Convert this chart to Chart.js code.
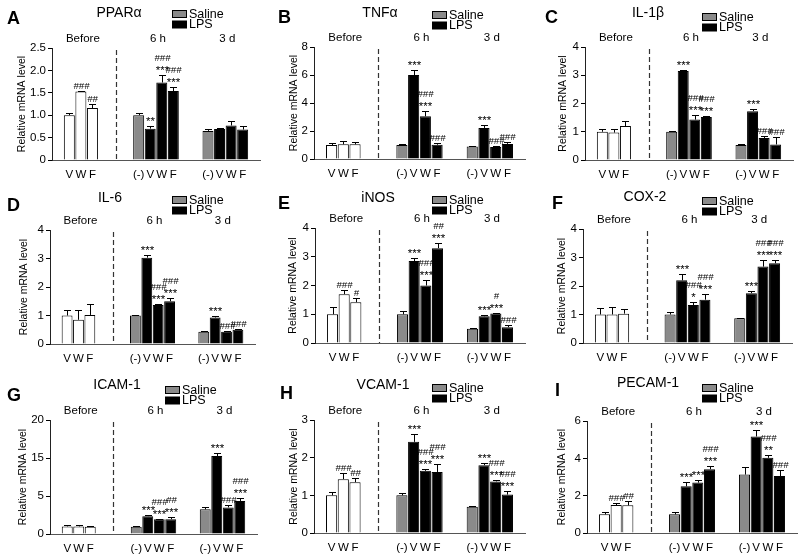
<!DOCTYPE html>
<html><head><meta charset="utf-8">
<script src="https://cdn.jsdelivr.net/npm/chart.js@4.4.0/dist/chart.umd.min.js"></script>
<style>
html,body{margin:0;padding:0;background:#fff;}
#wrap{position:relative;width:800px;height:559px;overflow:hidden;background:#fff;}
.panel{position:absolute;}
</style></head><body><div id="wrap"></div>
<script>
const FONT = '"Liberation Sans", Arial, Helvetica, sans-serif';

// x slots: blank slots separate the three groups
const slotLabels = ['', 'V', 'W', 'F', '', '', '', '(-)', 'V', 'W', 'F', '', '', '(-)', 'V', 'W', 'F', ''];
const groupNames = ['Before', '6 h', '3 d'];
const groupSlots = [[1, 2, 3], [7, 8, 9, 10], [13, 14, 15, 16]];
// bar kinds in value order: Before V,W,F | 6 h (-),V,W,F | 3 d (-),V,W,F
const barKinds = ['before', 'before', 'before', 'saline', 'lps', 'lps', 'lps', 'saline', 'lps', 'lps', 'lps'];
const seriesNames = ['Saline', 'LPS'];

// A PPARα
const pparValues = [1.00, 1.53, 1.16, 1.00, 0.70, 1.73, 1.54, 0.65, 0.69, 0.77, 0.68];
const pparErrors = [0.06, 0.02, 0.08, 0.06, 0.05, 0.17, 0.10, 0.05, 0.03, 0.09, 0.09];
const pparMarks = [[], ['###'], ['##'], [], ['**'], ['###', '***'], ['###', '***'], [], [], [], []];
const pparTicks = ['0', '0.5', '1.0', '1.5', '2.0', '2.5'];
// B TNFα
const tnfValues = [1.00, 1.05, 1.05, 1.00, 6.00, 3.05, 1.02, 0.90, 2.22, 0.85, 1.08];
const tnfErrors = [0.12, 0.22, 0.15, 0.05, 0.35, 0.40, 0.10, 0.05, 0.22, 0.06, 0.15];
const tnfMarks = [[], [], [], [], ['***'], ['###', '***'], ['###'], [], ['***'], ['###'], ['###']];
const tnfTicks = ['0', '2', '4', '6', '8'];
// C IL-1β
const il1Values = [1.00, 0.97, 1.20, 1.00, 3.15, 1.43, 1.52, 0.53, 1.73, 0.78, 0.55];
const il1Errors = [0.08, 0.12, 0.18, 0.04, 0.03, 0.15, 0.03, 0.05, 0.08, 0.06, 0.25];
const il1Marks = [[], [], [], [], ['***'], ['###', '***'], ['###', '***'], [], ['***'], ['###'], ['###']];
const il1Ticks = ['0', '1', '2', '3', '4'];
// D IL-6
const il6Values = [1.00, 0.85, 1.02, 1.00, 3.03, 1.37, 1.50, 0.43, 0.93, 0.43, 0.50];
const il6Errors = [0.20, 0.35, 0.37, 0.03, 0.08, 0.04, 0.12, 0.03, 0.05, 0.03, 0.03];
const il6Marks = [[], [], [], [], ['***'], ['###', '***'], ['###', '***'], [], ['***'], ['###'], ['###']];
const il6Ticks = ['0', '1', '2', '3', '4'];
// E iNOS
const inosValues = [1.00, 1.70, 1.42, 1.00, 2.85, 2.00, 3.30, 0.50, 0.93, 1.03, 0.55];
const inosErrors = [0.25, 0.14, 0.13, 0.13, 0.10, 0.20, 0.18, 0.02, 0.03, 0.03, 0.07];
const inosMarks = [[], ['###'], ['#'], [], ['***'], ['###', '***'], ['##', '***'], [], ['***'], ['#', '***'], ['###']];
const inosTicks = ['0', '1', '2', '3', '4'];
// F COX-2
const coxValues = [1.00, 1.00, 1.03, 1.00, 2.20, 1.33, 1.52, 0.87, 1.75, 2.68, 2.80];
const coxErrors = [0.22, 0.25, 0.17, 0.08, 0.22, 0.10, 0.20, 0.02, 0.07, 0.22, 0.10];
const coxMarks = [[], [], [], [], ['***'], ['###', '*'], ['###', '***'], [], ['***'], ['###', '***'], ['###', '***']];
const coxTicks = ['0', '1', '2', '3', '4'];
// G ICAM-1 (axis labelled 0, 5, 15, 20 at evenly spaced ticks)
const icamValues = [1.00, 1.00, 0.95, 0.95, 2.35, 1.95, 1.95, 3.25, 10.25, 3.50, 4.35];
const icamErrors = [0.12, 0.12, 0.05, 0.05, 0.10, 0.08, 0.25, 0.30, 0.45, 0.30, 0.40];
const icamMarks = [[], [], [], [], ['***'], ['###', '***'], ['##', '***'], [], ['***'], ['###'], ['###', '***']];
const icamTicks = ['0', '5', '15', '20'];
// H VCAM-1
const vcamValues = [1.00, 1.43, 1.35, 1.00, 2.42, 1.65, 1.62, 0.70, 1.80, 1.37, 1.02];
const vcamErrors = [0.10, 0.17, 0.12, 0.05, 0.20, 0.06, 0.22, 0.02, 0.06, 0.05, 0.09];
const vcamMarks = [[], ['###'], ['##'], [], ['***'], ['###', '***'], ['###', '***'], [], ['***'], ['###', '***'], ['###', '***']];
const vcamTicks = ['0', '1', '2', '3'];
// I PECAM-1
const pecamValues = [1.00, 1.50, 1.48, 1.00, 2.50, 2.70, 3.42, 3.13, 5.17, 4.03, 3.05];
const pecamErrors = [0.10, 0.10, 0.22, 0.12, 0.22, 0.12, 0.17, 0.40, 0.33, 0.15, 0.30];
const pecamMarks = [[], ['###'], ['##'], [], ['***'], ['***'], ['###', '***'], [], ['***'], ['###', '**'], ['###']];
const pecamTicks = ['0', '2', '4', '6'];

const panels = [
  {letter: 'A', gene: 'PPARα', values: pparValues, errors: pparErrors, marks: pparMarks, ticks: pparTicks, yMax: 2.5, step: 0.5,
   box: {x: 0, y: 0, w: 265, h: 185, axisX: 52, top: 48, zero: 160, end: 260, yTitleX: 22, lx: 7, ly: 19, gx: 119, gy: 13, legX: 172, legY: 14}},
  {letter: 'B', gene: 'TNFα', values: tnfValues, errors: tnfErrors, marks: tnfMarks, ticks: tnfTicks, yMax: 8, step: 2,
   box: {x: 265, y: 0, w: 265, h: 185, axisX: 49, top: 47, zero: 159, end: 260, yTitleX: 29, lx: 13, ly: 18, gx: 115, gy: 13, legX: 167, legY: 15}},
  {letter: 'C', gene: 'IL-1β', values: il1Values, errors: il1Errors, marks: il1Marks, ticks: il1Ticks, yMax: 4, step: 1,
   box: {x: 530, y: 0, w: 270, h: 185, axisX: 55, top: 47, zero: 160, end: 263, yTitleX: 33, lx: 15, ly: 18, gx: 118, gy: 13, legX: 172, legY: 17}},
  {letter: 'D', gene: 'IL-6', values: il6Values, errors: il6Errors, marks: il6Marks, ticks: il6Ticks, yMax: 4, step: 1,
   box: {x: 0, y: 185, w: 265, h: 185, axisX: 50, top: 45, zero: 159, end: 255, yTitleX: 24, lx: 7, ly: 21, gx: 110, gy: 13, legX: 172, legY: 15}},
  {letter: 'E', gene: 'iNOS', values: inosValues, errors: inosErrors, marks: inosMarks, ticks: inosTicks, yMax: 4, step: 1,
   box: {x: 265, y: 185, w: 265, h: 185, axisX: 50, top: 43, zero: 158, end: 260, yTitleX: 28, lx: 13, ly: 19, gx: 113, gy: 13, legX: 167, legY: 15}},
  {letter: 'F', gene: 'COX-2', values: coxValues, errors: coxErrors, marks: coxMarks, ticks: coxTicks, yMax: 4, step: 1,
   box: {x: 530, y: 185, w: 270, h: 185, axisX: 53, top: 44, zero: 158, end: 262, yTitleX: 32, lx: 22, ly: 19, gx: 115, gy: 12, legX: 172, legY: 16}},
  {letter: 'G', gene: 'ICAM-1', values: icamValues, errors: icamErrors, marks: icamMarks, ticks: icamTicks, yMax: 15, step: 5,
   box: {x: 0, y: 370, w: 265, h: 189, axisX: 50, top: 50, zero: 164, end: 257, yTitleX: 23, lx: 7, ly: 26, gx: 117, gy: 15, legX: 165, legY: 20}},
  {letter: 'H', gene: 'VCAM-1', values: vcamValues, errors: vcamErrors, marks: vcamMarks, ticks: vcamTicks, yMax: 3, step: 1,
   box: {x: 265, y: 370, w: 265, h: 189, axisX: 49, top: 50, zero: 163, end: 260, yTitleX: 29, lx: 15, ly: 24, gx: 118, gy: 15, legX: 167, legY: 18}},
  {letter: 'I', gene: 'PECAM-1', values: pecamValues, errors: pecamErrors, marks: pecamMarks, ticks: pecamTicks, yMax: 6, step: 2,
   box: {x: 530, y: 370, w: 270, h: 189, axisX: 57, top: 51, zero: 163, end: 267, yTitleX: 32, lx: 25, ly: 21, gx: 118, gy: 13, legX: 172, legY: 18}}
];

const COLORS = {before: '#ffffff', saline: '#8a8a8a', lps: '#000000'};
const valueSlots = groupSlots.flat();

const decorPlugin = {
  id: 'decor',
  afterDraw(chart) {
    const p = chart.options.plugins.decor.panel;
    const b = p.box;
    const ctx = chart.ctx, xs = chart.scales.x, ys = chart.scales.y, ca = chart.chartArea;
    ctx.save();
    // dashed separator between Before and 6 h
    const sepX = (xs.getPixelForValue(groupSlots[0][groupSlots[0].length - 1]) + xs.getPixelForValue(groupSlots[1][0])) / 2;
    ctx.strokeStyle = '#333'; ctx.lineWidth = 1.2; ctx.setLineDash([5, 3]);
    ctx.beginPath(); ctx.moveTo(Math.round(sepX) + 0.5, ca.top + 2); ctx.lineTo(Math.round(sepX) + 0.5, ca.bottom); ctx.stroke();
    ctx.setLineDash([]);
    // error bars and significance marks
    ctx.strokeStyle = '#000'; ctx.lineWidth = 1;
    p.values.forEach((v, i) => {
      const x = Math.round(xs.getPixelForValue(valueSlots[i])) + 0.5;
      const yv = ys.getPixelForValue(v);
      const yt = Math.round(ys.getPixelForValue(v + p.errors[i])) + 0.5;
      ctx.beginPath(); ctx.moveTo(x, yv); ctx.lineTo(x, yt);
      ctx.moveTo(x - 3.5, yt); ctx.lineTo(x + 3.5, yt); ctx.stroke();
      const m = p.marks[i];
      let base = yt - 3;
      ctx.fillStyle = '#000'; ctx.textAlign = 'center'; ctx.textBaseline = 'alphabetic';
      for (let k = m.length - 1; k >= 0; k--) {
        const s = m[k];
        if (s.indexOf('*') >= 0) { ctx.font = '11.5px ' + FONT; ctx.fillText(s, x, base + 1.5); }
        else { ctx.font = 'italic 9.5px ' + FONT; ctx.fillText(s, x, base); }
        base -= 12;
      }
    });
    // group labels
    ctx.font = '11.5px ' + FONT; ctx.fillStyle = '#000'; ctx.textAlign = 'center'; ctx.textBaseline = 'middle';
    groupNames.forEach((g, gi) => {
      const sl = groupSlots[gi];
      const gx = (xs.getPixelForValue(sl[0]) + xs.getPixelForValue(sl[sl.length - 1])) / 2 + 2;
      ctx.fillText(g, gx, ca.top - 9);
    });
    // panel letter and gene title
    ctx.textAlign = 'left'; ctx.font = 'bold 18px ' + FONT; ctx.fillText(p.letter, b.lx, b.ly);
    ctx.textAlign = 'center'; ctx.font = '14px ' + FONT; ctx.fillText(p.gene, b.gx, b.gy);
    // legend
    const ds = chart.data.datasets;
    seriesNames.forEach((n, k) => {
      const d = ds.find(e => e.label === n);
      const by = b.legY + k * 10.5;
      ctx.fillStyle = d.backgroundColor; ctx.fillRect(b.legX, by - 3.5, 15, 7);
      ctx.strokeStyle = '#000'; ctx.lineWidth = 1; ctx.strokeRect(b.legX + 0.5, by - 3.5, 14, 7);
      ctx.fillStyle = '#000'; ctx.textAlign = 'left'; ctx.font = '12.5px ' + FONT;
      ctx.fillText(n, b.legX + 17, by + 0.5);
    });
    ctx.restore();
  }
};

const wrap = document.getElementById('wrap');
panels.forEach(p => {
  const b = p.box;
  const div = document.createElement('div');
  div.className = 'panel';
  div.style.left = b.x + 'px'; div.style.top = b.y + 'px';
  div.style.width = b.w + 'px'; div.style.height = b.h + 'px';
  const cv = document.createElement('canvas');
  cv.width = b.w; cv.height = b.h;
  cv.style.width = b.w + 'px'; cv.style.height = b.h + 'px';
  div.appendChild(cv); wrap.appendChild(div);

  const mk = kind => slotLabels.map((_, s) => {
    const i = valueSlots.indexOf(s);
    return (i >= 0 && barKinds[i] === kind) ? p.values[i] : null;
  });
  new Chart(cv, {
    type: 'bar',
    data: {
      labels: slotLabels,
      datasets: [
        {label: 'Before', data: mk('before'), backgroundColor: COLORS.before},
        {label: 'Saline', data: mk('saline'), backgroundColor: COLORS.saline},
        {label: 'LPS', data: mk('lps'), backgroundColor: COLORS.lps}
      ]
    },
    options: {
      responsive: false, animation: false, devicePixelRatio: 1,
      datasets: {bar: {grouped: false, categoryPercentage: 1, barPercentage: 0.95, borderColor: '#000', borderWidth: 1, borderSkipped: 'bottom'}},
      layout: {padding: {left: 0, top: b.top, right: b.w - b.end, bottom: 0}},
      plugins: {legend: {display: false}, tooltip: {enabled: false}, decor: {panel: p}},
      scales: {
        x: {
          type: 'category', offset: true,
          grid: {display: false, drawTicks: false},
          border: {display: true, color: '#555', width: 1},
          ticks: {autoSkip: false, maxRotation: 0, padding: 8, color: '#000', font: {family: FONT, size: 11.5}},
          afterFit: s => { s.height = b.h - b.zero; }
        },
        y: {
          min: 0, max: p.yMax,
          grid: {drawOnChartArea: false, drawTicks: true, tickLength: 4, color: '#000'},
          border: {display: true, color: '#222', width: 1},
          ticks: {stepSize: p.step, padding: 2, color: '#000', font: {family: FONT, size: 11.5},
                  callback: (v, i) => p.ticks[i]},
          title: {display: true, text: 'Relative mRNA level', color: '#000', font: {family: FONT, size: 10.5},
                  padding: {top: b.yTitleX - 6.3, bottom: 0}},
          afterFit: s => { s.width = b.axisX; }
        }
      }
    },
    plugins: [decorPlugin]
  });
});
</script></body></html>
